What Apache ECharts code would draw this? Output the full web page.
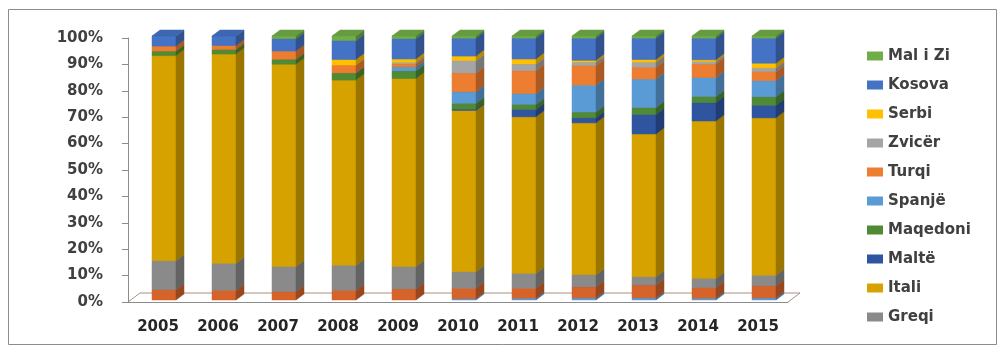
<!DOCTYPE html>
<html>
<head>
<meta charset="utf-8">
<script src="https://cdn.jsdelivr.net/npm/echarts@6/dist/echarts.min.js"></script>
<style>
  html, body { margin: 0; padding: 0; background: #fff; }
  #chart { width: 1004px; height: 352px; }
</style>
</head>
<body>
<div id="chart"></div>
<script>
// years on the x axis
var years = ["2005", "2006", "2007", "2008", "2009", "2010", "2011", "2012", "2013", "2014", "2015"];

// shares in %, bottom of the stack first
var seria11  = [0,   0,   0,   0,   0,   0.5, 0.7, 0.8,  0.8,  0.7, 0.8]; // not in legend
var seria12  = [3.9, 3.7, 3.2, 3.7, 4.2, 4.0, 3.8, 4.2,  4.9,  4.0, 4.6]; // not in legend
var greqi    = [11.0, 10.2, 9.5, 9.5, 8.5, 6.2, 5.6, 4.6, 3.1, 3.5, 4.0];
var itali    = [77.7, 79.3, 76.6, 70.1, 71.2, 61.1, 59.3, 57.5, 54.1, 59.6, 59.6];
var malte    = [0,   0,   0,   0,   0,   0.5, 2.8, 1.9,  7.4,  7.0, 4.8];
var maqedoni = [1.7, 1.7, 1.9, 2.7, 2.9, 2.2, 1.9, 2.2,  2.6,  2.3, 3.2];
var spanje   = [0,   0,   0,   0,   1.5, 4.4, 4.1, 10.2, 10.8, 7.2, 6.1];
var turqi    = [1.9, 1.5, 3.1, 3.0, 1.1, 7.1, 8.7, 7.4,  4.5,  5.1, 3.4];
var zvicer   = [0,   0,   0,   0,   0.6, 4.7, 2.5, 1.3,  1.9,  0.9, 1.4];
var serbi    = [0,   0,   0,   2.1, 1.3, 1.7, 1.9, 0.7,  1.0,  0.7, 1.8];
var kosova   = [3.8, 3.6, 4.7, 7.2, 7.7, 6.8, 7.9, 8.4,  8.1,  8.2, 9.5];
var maliZi   = [0,   0,   1.0, 1.7, 1.0, 0.8, 0.8, 0.8,  0.8,  0.8, 0.8];

var legendNames = ["Mal i Zi", "Kosova", "Serbi", "Zvicër", "Turqi", "Spanjë", "Maqedoni", "Maltë", "Itali", "Greqi"];

var stackList = [
  { name: "Seria 11", data: seria11,  color: "#5B9BD5" },
  { name: "Seria 12", data: seria12,  color: "#D5632A" },
  { name: "Greqi",    data: greqi,    color: "#8A8A8A" },
  { name: "Itali",    data: itali,    color: "#D6A200" },
  { name: "Maltë",    data: malte,    color: "#2F55A0" },
  { name: "Maqedoni", data: maqedoni, color: "#518A35" },
  { name: "Spanjë",   data: spanje,   color: "#5B9BD5" },
  { name: "Turqi",    data: turqi,    color: "#ED7D31" },
  { name: "Zvicër",   data: zvicer,   color: "#A5A5A5" },
  { name: "Serbi",    data: serbi,    color: "#FFC000" },
  { name: "Kosova",   data: kosova,   color: "#4472C4" },
  { name: "Mal i Zi", data: maliZi,   color: "#70AD47" }
];

function shade(hex, f) {
  var n = parseInt(hex.slice(1), 16);
  var r = Math.round(((n >> 16) & 255) * f);
  var g = Math.round(((n >> 8) & 255) * f);
  var b = Math.round((n & 255) * f);
  return "rgb(" + r + "," + g + "," + b + ")";
}

// 3d-ish column piece: front face, right side, top cap
function makeRender(color, order) {
  var sideCol = shade(color, 0.72);
  var topCol = shade(color, 0.9);
  return function (params, api) {
    var lo = api.value(1), hi = api.value(2);
    if (hi - lo <= 0) return null;
    var idx = api.value(0);
    var pb = api.coord([idx, lo]);
    var pt = api.coord([idx, hi]);
    var band = api.size([1, 0])[0];
    var x0 = pb[0] - band * 0.1;
    var w = band * 0.4;
    var x1 = x0 + w;
    var yb = pb[1] - 2, yt = pt[1] - 2;
    var dx = 8, dy = 6;
    return {
      type: "group",
      children: [
        { type: "rect", z2: order, shape: { x: x0, y: yt, width: w, height: yb - yt },
          style: { fill: color, stroke: color, lineWidth: 0.5 } },
        { type: "polygon", z2: order, shape: { points: [[x1, yt], [x1 + dx, yt - dy], [x1 + dx, yb - dy], [x1, yb]] },
          style: { fill: sideCol, stroke: sideCol, lineWidth: 0.5 } },
        { type: "polygon", z2: order, shape: { points: [[x0, yt], [x0 + dx, yt - dy], [x1 + dx, yt - dy], [x1, yt]] },
          style: { fill: topCol, stroke: topCol, lineWidth: 0.5 } }
      ]
    };
  };
}

var running = years.map(function () { return 0; });
var series = stackList.map(function (s, si) {
  var rows = s.data.map(function (v, i) {
    var lo = running[i];
    running[i] = lo + v;
    return [i, lo, lo + v];
  });
  return {
    name: s.name,
    type: "custom",
    renderItem: makeRender(s.color, si * 10),
    itemStyle: { color: s.color },
    encode: { x: 0, y: [1, 2] },
    data: rows
  };
});

var chart = echarts.init(document.getElementById("chart"));
chart.setOption({
  animation: false,
  grid: { left: 128, top: 38, width: 660, height: 264 },
  legend: {
    data: legendNames,
    orient: "vertical",
    left: 862,
    top: 43,
    icon: "rect",
    itemWidth: 16,
    itemHeight: 9,
    itemGap: 13,
    textStyle: { fontFamily: "DejaVu Sans", fontWeight: "bold", fontSize: 15, lineHeight: 16, color: "#404040" }
  },
  xAxis: {
    type: "category",
    data: years,
    axisLine: { lineStyle: { color: "#8C8C8C" } },
    axisTick: { length: 6, lineStyle: { color: "#8C8C8C" } },
    axisLabel: { margin: 18, fontFamily: "DejaVu Sans", fontWeight: "bold", fontSize: 15, color: "#262626" }
  },
  yAxis: {
    type: "value",
    min: 0,
    max: 100,
    interval: 10,
    splitLine: { show: false },
    axisLine: { show: true, lineStyle: { color: "#8C8C8C" } },
    axisTick: { show: true, length: 6, lineStyle: { color: "#8C8C8C" } },
    axisLabel: { formatter: "{value}%", margin: 25, fontFamily: "DejaVu Sans", fontWeight: "bold", fontSize: 15, color: "#404040" }
  },
  graphic: [
    { type: "rect", silent: true, z: -1, shape: { x: 8.5, y: 9.5, width: 988, height: 335 },
      style: { fill: "none", stroke: "#8C8C8C", lineWidth: 1 } },
    { type: "polyline", silent: true, z: -1,
      shape: { points: [[128, 302], [140, 293], [800, 293], [788, 302]] },
      style: { fill: "none", stroke: "#A89080", lineWidth: 1 } }
  ],
  series: series
});
</script>
</body>
</html>
